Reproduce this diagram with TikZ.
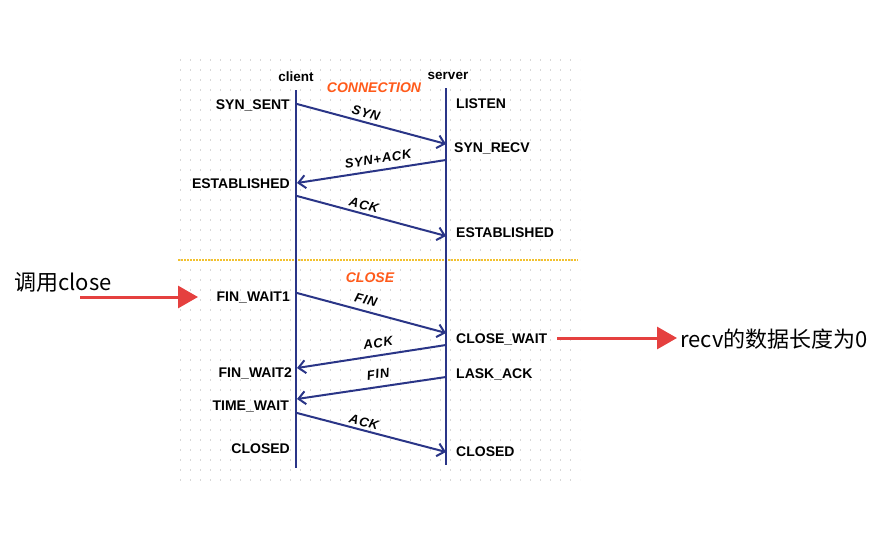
\documentclass[tikz,border=0pt]{standalone}
\usepackage{fontspec}
\setmainfont{Liberation Sans}
\newfontfamily\cjk{Noto Sans CJK SC}
\newfontfamily\spacedfont[LetterSpace=6]{Liberation Sans}
\usetikzlibrary{arrows.meta}
\definecolor{navy}{HTML}{2A3587}
\definecolor{orng}{HTML}{FF5A1A}
\definecolor{redarrow}{HTML}{E5403F}
\definecolor{sep}{HTML}{F2C12E}
\definecolor{griddot}{HTML}{D8D8D8}
\tikzset{
  life/.style={draw=navy, line width=2.2pt},
  msg/.style={draw=navy, line width=2pt, -{Straight Barb[length=7pt,width=13pt,line width=2pt]}},
  lstate/.style={font=\bfseries\fontsize{14}{16}\selectfont, anchor=east, inner sep=0pt},
  rstate/.style={font=\bfseries\fontsize{14}{16}\selectfont, anchor=west, inner sep=0pt},
  head/.style={font=\bfseries\fontsize{13.5}{15}\selectfont, inner sep=0pt},
  section/.style={font=\bfseries\itshape\fontsize{14}{16}\selectfont, text=orng, inner sep=0pt},
  msglabel/.style={font=\spacedfont\bfseries\itshape\fontsize{13}{15}\selectfont, inner sep=0pt},
  note/.style={font=\cjk\fontsize{22}{26}\selectfont, inner sep=0pt},
  redarr/.style={draw=redarrow, line width=3pt, -{Triangle[length=20pt,width=22pt]}},
}
\begin{document}
\begin{tikzpicture}[x=1pt,y=-1pt]
\useasboundingbox (0,0) rectangle (886,551);
\fill[white] (0,0) rectangle (886,551);
% grid dots
\foreach \yy in {60,70,...,480}{
  \draw[griddot, line width=1.2pt, dash pattern=on 1.2pt off 8.8pt] (180,\yy) -- (580,\yy);
}
% separator
\draw[sep, line width=1.2pt, dash pattern=on 1.5pt off 1.5pt] (178,260) -- (578,260);

% lifelines
\coordinate (ctop) at (296,90);
\coordinate (cbot) at (296,468);
\coordinate (stop) at (446,88);
\coordinate (sbot) at (446,465);
\draw[life] (ctop) -- (cbot);
\draw[life] (stop) -- (sbot);

\node[head] (client) at (296,77) {client};
\node[head] (server) at (448,76) {server};
\node[section] (conn) at (374,88) {CONNECTION};
\node[section] (close) at (370,278) {CLOSE};

% left states
\node[lstate] (synsent) at (290,105) {SYN\_SENT};
\node[lstate] (estc) at (290,184) {ESTABLISHED};
\node[lstate] (fw1) at (290,298) {FIN\_WAIT1};
\node[lstate] (fw2) at (292,373) {FIN\_WAIT2};
\node[lstate] (tw) at (289,407) {TIME\_WAIT};
\node[lstate] (closedc) at (290,449) {CLOSED};
% right states
\node[rstate] (listen) at (456,104) {LISTEN};
\node[rstate] (synrecv) at (454,148) {SYN\_RECV};
\node[rstate] (ests) at (456,233) {ESTABLISHED};
\node[rstate] (cw) at (456,339) {CLOSE\_WAIT};
\node[rstate] (lack) at (456,374) {LASK\_ACK};
\node[rstate] (closeds) at (456,452) {CLOSED};

% message endpoints
\coordinate (a1) at (297,104); \coordinate (b1) at (446,144);
\coordinate (a2) at (446,160); \coordinate (b2) at (297,183);
\coordinate (a3) at (297,196); \coordinate (b3) at (446,236);
\coordinate (a4) at (297,293); \coordinate (b4) at (446,333);
\coordinate (a5) at (446,345); \coordinate (b5) at (297,368);
\coordinate (a6) at (446,377); \coordinate (b6) at (297,399);
\coordinate (a7) at (297,413); \coordinate (b7) at (446,452);

\draw[msg] (a1) -- (b1);
\draw[msg] (a2) -- (b2);
\draw[msg] (a3) -- (b3);
\draw[msg] (a4) -- (b4);
\draw[msg] (a5) -- (b5);
\draw[msg] (a6) -- (b6);
\draw[msg] (a7) -- (b7);

\node[msglabel, rotate=-15] (l1) at (366,113) {SYN};
\node[msglabel, rotate=9] (l2) at (378,159) {SYN+ACK};
\node[msglabel, rotate=-15] (l3) at (364,205) {ACK};
\node[msglabel, rotate=-15] (l4) at (366,300) {FIN};
\node[msglabel, rotate=9] (l5) at (378,343) {ACK};
\node[msglabel, rotate=9] (l6) at (378,374) {FIN};
\node[msglabel, rotate=-15] (l7) at (364,422) {ACK};

% notes
\node[note, anchor=west] (callclose) at (14,282) {调用close};
\coordinate (r1s) at (80,297); \coordinate (r1e) at (198,297);
\draw[redarr] (r1s) -- (r1e);
\node[note, anchor=west] (recv) at (680,339) {recv的数据长度为0};
\coordinate (r2s) at (557,338); \coordinate (r2e) at (677,338);
\draw[redarr] (r2s) -- (r2e);
\end{tikzpicture}
\end{document}
